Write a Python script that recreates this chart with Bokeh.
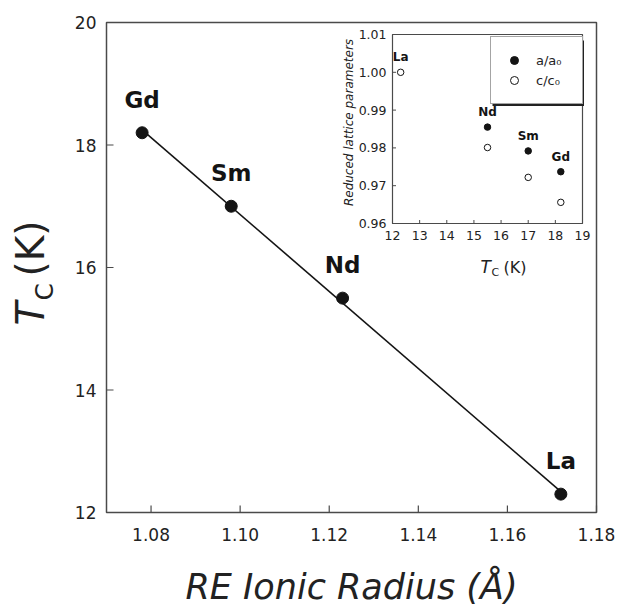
import math
import numpy as np
from bokeh.plotting import figure
from bokeh.models import Range1d, Label, Legend, LegendItem
from bokeh.embed import file_html
from bokeh.resources import INLINE
from bokeh.core.properties import value

# ---------------- data ----------------
elements = ["Gd", "Sm", "Nd", "La"]
ionic_radius = [1.078, 1.098, 1.123, 1.172]
tc_main = [18.2, 17.0, 15.5, 12.3]

x_lim = [1.07, 1.18]
y_lim = [12, 20]
x_ticks = [1.08, 1.10, 1.12, 1.14, 1.16, 1.18]
y_ticks = [12, 14, 16, 18, 20]

# inset: reduced lattice parameters vs Tc
inset_elements = ["La", "Nd", "Sm", "Gd"]
inset_tc = [12.3, 15.5, 17.0, 18.2]
a_tc = [15.5, 17.0, 18.2]
a_elements = ["Nd", "Sm", "Gd"]
a_ratio = [0.9855, 0.9792, 0.9737]
c_tc = [12.3, 15.5, 17.0, 18.2]
c_ratio = [1.000, 0.9801, 0.9722, 0.9656]

inset_x_ticks = [12, 13, 14, 15, 16, 17, 18, 19]
inset_y_ticks = [0.96, 0.97, 0.98, 0.99, 1.00, 1.01]

# ---------------- layout (canvas pixels) ----------------
W, H = 617, 605
FL, FR, FT, FB = 106, 596, 22, 512      # main plot box
IL, IR, IT, IB = 392, 582, 34, 223      # inset plot box
LL, LR, LT, LB = 490, 582, 38, 104      # inset legend box
FONT = "DejaVu Sans"
INK = "#141414"
FRAME = "#4a4a4a"
TXT = "#222222"

kx = (FR - FL) / (x_lim[1] - x_lim[0])
ky = (FB - FT) / (y_lim[1] - y_lim[0])

p = figure(width=W, height=H,
           x_range=Range1d(x_lim[0] - FL / kx, x_lim[1] + (W - FR) / kx),
           y_range=Range1d(y_lim[0] - (H - FB) / ky, y_lim[1] + FT / ky),
           output_backend="svg", toolbar_location=None,
           x_axis_location=None, y_axis_location=None, min_border=0)
p.xgrid.visible = False
p.ygrid.visible = False
p.outline_line_color = None
p.background_fill_color = "white"
p.border_fill_color = "white"


def sx(px):
    return px


def sy(py):
    return H - py


def label(x, y, text, size, style="normal", angle=0.0, align="left"):
    # x, y: page position of the text's vertical middle
    p.add_layout(Label(x=sx(x), y=sy(y), x_units="screen", y_units="screen", angle=angle,
                       text=text, text_font=FONT, text_font_style=style,
                       text_font_size="%spx" % size, text_color=TXT,
                       text_align=align, text_baseline="middle"))


# ---------------- main box, ticks and tick labels ----------------
p.quad(left=[x_lim[0]], right=[x_lim[1]], bottom=[y_lim[0]], top=[y_lim[1]],
       fill_color=None, line_color=FRAME, line_width=1.5)
tick = 7
p.segment(x0=x_ticks, x1=x_ticks, y0=[y_lim[0]] * len(x_ticks),
          y1=[y_lim[0] + tick / ky] * len(x_ticks), line_color=FRAME, line_width=1.2)
p.segment(x0=[x_lim[0]] * len(y_ticks), x1=[x_lim[0] + tick / kx] * len(y_ticks),
          y0=y_ticks, y1=y_ticks, line_color=FRAME, line_width=1.2)
p.text(x_ticks, [y_lim[0]] * len(x_ticks), text=["%.2f" % t for t in x_ticks],
       text_font=value(FONT), text_font_size="17px", text_color=TXT,
       text_align="center", text_baseline="top", y_offset=15)
p.text([x_lim[0]] * len(y_ticks), y_ticks, text=["%d" % t for t in y_ticks],
       text_font=value(FONT), text_font_size="17px", text_color=TXT,
       text_align="right", text_baseline="middle", x_offset=-10)

# ---------------- main data ----------------
coef = np.polyfit(ionic_radius, tc_main, 1)
xfit = [min(ionic_radius), max(ionic_radius)]
yfit = [coef[0] * v + coef[1] for v in xfit]
p.line(xfit, yfit, line_color=INK, line_width=1.6)
p.scatter(ionic_radius, tc_main, size=12, fill_color=INK, line_color=INK)
p.text(ionic_radius, tc_main, text=elements, text_font=value(FONT),
       text_font_style="bold", text_font_size="23px", text_color=INK,
       text_align="center", text_baseline="middle", y_offset=-33)

# ---------------- axis titles ----------------
label((FL + FR) / 2, 586, "RE Ionic Radius (\u00c5)", 35, style="italic", align="center")
ang = math.pi / 2
label(30, 325, "T", 39, style="italic", angle=ang)
label(44, 300, "C", 25, angle=ang)
label(30, 276, "(K)", 39, angle=ang)

# ---------------- inset ----------------
ix0, ix1 = inset_x_ticks[0], inset_x_ticks[-1]
iy0, iy1 = inset_y_ticks[0], inset_y_ticks[-1]
kxi = (IR - IL) / (ix1 - ix0)
kyi = (IB - IT) / (iy1 - iy0)
p.extra_x_ranges = {"ix": Range1d(ix0 - IL / kxi, ix1 + (W - IR) / kxi)}
p.extra_y_ranges = {"iy": Range1d(iy0 - (H - IB) / kyi, iy1 + IT / kyi)}
R = dict(x_range_name="ix", y_range_name="iy")


def ipx(px):
    return ix0 + (px - IL) / kxi


def ipy(py):
    return iy1 - (py - IT) / kyi


p.quad(left=[ix0], right=[ix1], bottom=[iy0], top=[iy1], fill_color="white",
       line_color=FRAME, line_width=1.2, **R)
tl = 3.5
p.segment(x0=inset_x_ticks, x1=inset_x_ticks, y0=[iy0] * len(inset_x_ticks),
          y1=[iy0 + tl / kyi] * len(inset_x_ticks), line_color=FRAME, line_width=1, **R)
p.segment(x0=[ix0] * len(inset_y_ticks), x1=[ix0 + tl / kxi] * len(inset_y_ticks),
          y0=inset_y_ticks, y1=inset_y_ticks, line_color=FRAME, line_width=1, **R)
p.text(inset_x_ticks, [iy0] * len(inset_x_ticks), text=[str(t) for t in inset_x_ticks],
       text_font=value(FONT), text_font_size="12.5px", text_color=TXT,
       text_align="center", text_baseline="top", y_offset=7, **R)
p.text([ix0] * len(inset_y_ticks), inset_y_ticks, text=["%.2f" % t for t in inset_y_ticks],
       text_font=value(FONT), text_font_size="12.5px", text_color=TXT,
       text_align="right", text_baseline="middle", x_offset=-6, **R)

# legend drop shadow (styling)
p.quad(left=[ipx(LL + 2)], right=[ipx(LR + 1.5)], top=[ipy(LT + 2)], bottom=[ipy(LB + 1.5)],
       fill_color="#222222", line_color=None, **R)

r_a = p.scatter(a_tc, a_ratio, size=6.5, fill_color=INK, line_color=INK, **R)
r_c = p.scatter(c_tc, c_ratio, size=6.5, fill_color="white", line_color=INK,
                line_width=1, **R)

top_val = {e: c for e, c in zip(inset_elements, c_ratio)}
for e, a in zip(a_elements, a_ratio):
    top_val[e] = max(top_val[e], a)
p.text(inset_tc, [top_val[e] for e in inset_elements], text=inset_elements,
       text_font=value(FONT), text_font_style="bold", text_font_size="12px",
       text_color=INK, text_align="center", text_baseline="middle", y_offset=-15, **R)

label(348, 122, "Reduced lattice parameters", 12, style="italic", angle=ang, align="center")
label(480, 266, "T", 17, style="italic")
label(491, 272, "C", 11)
label(503, 266.5, "(K)", 16)

legend = Legend(items=[LegendItem(label="a/a\u2080", renderers=[r_a]),
                       LegendItem(label="c/c\u2080", renderers=[r_c])],
                location=(LL, H - LB), margin=0, padding=13, spacing=0,
                glyph_width=20, glyph_height=20, label_height=20, label_width=33,
                label_standoff=12, label_text_font=FONT, label_text_font_size="13px",
                label_text_color=TXT, border_line_color=FRAME, border_line_width=1.2,
                background_fill_color="white", background_fill_alpha=1.0)
p.add_layout(legend)

open("out.html", "w").write(file_html(p, INLINE))
